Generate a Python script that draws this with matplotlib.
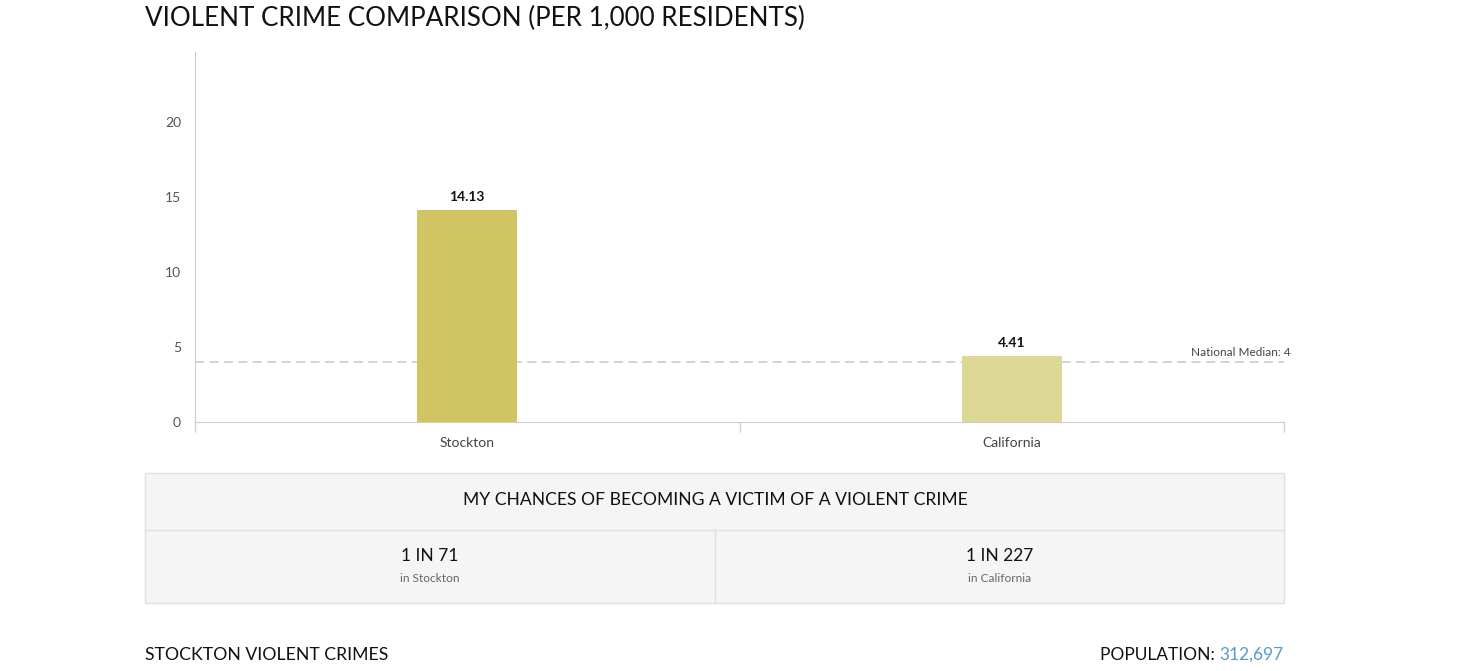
import matplotlib
matplotlib.use('Agg')
import matplotlib.pyplot as plt
from matplotlib.patches import Rectangle

# ================= data =================
categories = ['Stockton', 'California']
crime_rates = [14.13, 4.41]
bar_colors = ['#d1c463', '#ddd896']
national_median = 4
y_ticks = [0, 5, 10, 15, 20]
chances = ['1 IN 71', '1 IN 227']
chance_places = ['in Stockton', 'in California']
population = '312,697'
# ========================================

plt.rcParams['font.family'] = ['Lato', 'DejaVu Sans']

W, H = 1474, 671
fig = plt.figure(figsize=(W / 100, H / 100), dpi=100)


def fx(px):
    return px / W


def fy(py):
    return 1 - py / H


# chart area
ax = fig.add_axes([fx(195), fy(422), fx(1284) - fx(195), fy(52) - fy(422)])
x = list(range(len(categories)))
ax.bar(x, crime_rates, width=0.184, color=bar_colors, zorder=2)
for xi, v in zip(x, crime_rates):
    ax.annotate(f'{v:.2f}', (xi, v), xytext=(0, 5), textcoords='offset points',
                ha='center', va='bottom', fontsize=10, fontweight='bold', color='#111111')

ax.axhline(national_median, color='#d0d0d0', linestyle=(0, (5, 3)), linewidth=1.3, zorder=1)
ax.annotate(f'National Median: {national_median}', (1.5, national_median),
            xytext=(5, 3), textcoords='offset points', ha='right', va='bottom',
            fontsize=8.5, color='#444444', annotation_clip=False)

ax.set_xlim(-0.5, 1.5)
ax.set_ylim(0, 24.67)
ax.set_yticks(y_ticks)
ax.tick_params(axis='y', length=0, labelsize=10, labelcolor='#555555', pad=10)

ax.set_xticks([-0.5, 0.5, 1.5])
ax.set_xticklabels([])
ax.tick_params(axis='x', which='major', length=7.2, color='#cccccc', width=1)
ax.set_xticks(x, minor=True)
ax.set_xticklabels(categories, minor=True)
ax.tick_params(axis='x', which='minor', length=0, labelsize=10, labelcolor='#444444', pad=11)

for s in ['top', 'right']:
    ax.spines[s].set_visible(False)
for s in ['left', 'bottom']:
    ax.spines[s].set_color('#cccccc')

# title
fig.text(fx(145), fy(18), 'VIOLENT CRIME COMPARISON (PER 1,000 RESIDENTS)',
         fontsize=18.7, color='#111111', ha='left', va='center')

# chances table
ov = fig.add_axes([0, 0, 1, 1], zorder=-1)
ov.set_xlim(0, W)
ov.set_ylim(H, 0)
ov.axis('off')
ov.add_patch(Rectangle((145, 473), 1139, 130, facecolor='#f5f5f5', edgecolor='#e0e0e0', linewidth=1))
ov.plot([145, 1284], [530, 530], color='#e0e0e0', linewidth=1)
ov.plot([715, 715], [530, 603], color='#e0e0e0', linewidth=1)

fig.text(fx(715), fy(500), 'MY CHANCES OF BECOMING A VICTIM OF A VIOLENT CRIME',
         fontsize=12.6, color='#111111', ha='center', va='center')
for i, (c, p) in enumerate(zip(chances, chance_places)):
    cx = 430 + i * 570
    fig.text(fx(cx), fy(556), c, fontsize=12.5, color='#111111', ha='center', va='center')
    fig.text(fx(cx), fy(578), p, fontsize=8.6, color='#666666', ha='center', va='center')

# footer
fig.text(fx(145), fy(655), 'STOCKTON VIOLENT CRIMES', fontsize=12.7, color='#111111',
         ha='left', va='center')
t = fig.text(fx(1284), fy(655), population, fontsize=12.5, color='#5b9bc8',
             ha='right', va='center')
fig.canvas.draw()
bb = t.get_window_extent()
fig.text(bb.x0 / W, fy(655), 'POPULATION: ', fontsize=12.5, color='#111111',
         ha='right', va='center')

fig.savefig('out.png', dpi=100)
